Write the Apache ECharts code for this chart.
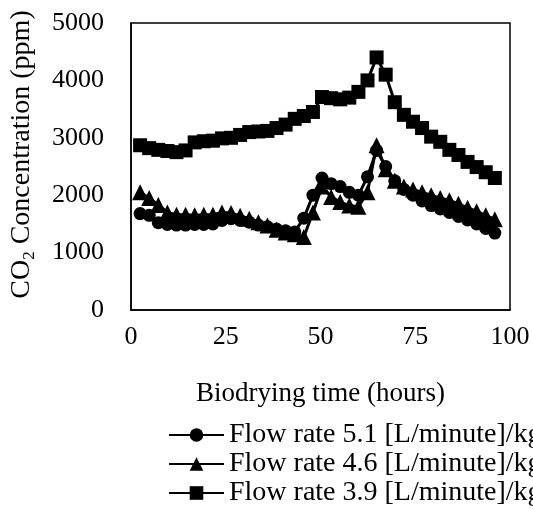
<!DOCTYPE html>
<html>
<head>
<meta charset="utf-8">
<script src="https://cdn.jsdelivr.net/npm/echarts@6/dist/echarts.min.js"></script>
<style>
  html, body { margin: 0; padding: 0; background: #fff; }
  #main { width: 533px; height: 510px; }
</style>
</head>
<body>
<div id="main"></div>
<script>
// sampling times (hours)
var hours = [2.4, 4.8, 7.2, 9.6, 12, 14.4, 16.8, 19.2, 21.6, 24,
             26.4, 28.8, 31.2, 33.6, 36, 38.4, 40.8, 43.2, 45.6, 48,
             50.4, 52.8, 55.2, 57.6, 60, 62.4, 64.8, 67.2, 69.6, 72,
             74.4, 76.8, 79.2, 81.6, 84, 86.4, 88.8, 91.2, 93.6, 96];

// CO2 concentration (ppm)
var flow51 = [1680, 1650, 1520, 1490, 1480, 1480, 1490, 1490, 1500, 1560,
              1590, 1560, 1530, 1480, 1450, 1410, 1380, 1360, 1600, 2000,
              2300, 2200, 2150, 2050, 2000, 2320, 2780, 2500, 2250, 2100,
              2000, 1900, 1820, 1760, 1700, 1630, 1570, 1500, 1420, 1340];
var flow46 = [2050, 1950, 1830, 1700, 1660, 1660, 1650, 1660, 1660, 1700,
              1690, 1640, 1590, 1530, 1470, 1400, 1350, 1320, 1270, 1700,
              2150, 1970, 1880, 1820, 1800, 2050, 2870, 2450, 2250, 2150,
              2100, 2050, 2000, 1950, 1910, 1850, 1780, 1720, 1650, 1580];
var flow39 = [2870, 2820, 2790, 2770, 2750, 2780, 2920, 2940, 2950, 2990,
              3000, 3050, 3100, 3110, 3120, 3170, 3230, 3330, 3380, 3450,
              3710, 3690, 3670, 3700, 3800, 4000, 4400, 4100, 3620, 3400,
              3280, 3170, 3020, 2930, 2790, 2700, 2580, 2490, 2400, 2300];

var names = ['Flow rate 5.1 [L/minute]/kg', 'Flow rate 4.6 [L/minute]/kg', 'Flow rate 3.9 [L/minute]/kg'];
var symbols = ['circle', 'triangle', 'rect'];
var sizes = [13, 16, 14];

function pairs(vals) {
    return hours.map(function (h, i) { return [h, vals[i]]; });
}

var font = 'Liberation Serif, Times New Roman, serif';
var chart = echarts.init(document.getElementById('main'));

var option = {
    animation: false,
    textStyle: { fontFamily: font, color: '#000' },
    grid: {
        left: 130, right: 23, top: 23, bottom: 200,
        show: true, borderColor: '#000', borderWidth: 1.5
    },
    legend: {
        orient: 'vertical',
        left: 168,
        top: 421,
        height: 120,
        padding: 0,
        itemWidth: 55,
        itemHeight: 17,
        itemGap: 1,
        data: names,
        textStyle: { fontFamily: font, fontSize: 28, lineHeight: 27, color: '#000' }
    },
    xAxis: {
        type: 'value',
        min: 0, max: 100, interval: 25,
        name: 'Biodrying time (hours)',
        nameLocation: 'middle',
        nameGap: 70,
        nameTextStyle: { fontFamily: font, fontSize: 27, color: '#000' },
        axisLine: { lineStyle: { color: '#000', width: 1.5 } },
        axisTick: { show: false },
        splitLine: { show: false },
        axisLabel: { margin: 14, fontFamily: font, fontSize: 26, color: '#000' }
    },
    yAxis: {
        type: 'value',
        min: 0, max: 5000, interval: 1000,
        name: '{n|CO}{sub|2}{n| Concentration (ppm)}',
        nameLocation: 'middle',
        nameGap: 93,
        nameTextStyle: {
            fontFamily: font, fontSize: 28, color: '#000',
            padding: [0, 0, 0, 24],
            rich: {
                n: { fontFamily: font, fontSize: 28, color: '#000' },
                sub: { fontFamily: font, fontSize: 17, color: '#000', padding: [15, 0, 0, 0] }
            }
        },
        axisLine: { show: true, lineStyle: { color: '#000', width: 1.5 } },
        axisTick: { show: false },
        splitLine: { show: false },
        axisLabel: {
            margin: 27, fontFamily: font, fontSize: 26, color: '#000',
            formatter: function (v) { return String(v); }
        }
    },
    series: names.map(function (n, k) {
        return {
            name: n,
            type: 'line',
            data: pairs([flow51, flow46, flow39][k]),
            symbol: symbols[k],
            symbolSize: sizes[k],
            showAllSymbol: true,
            lineStyle: { color: '#000', width: 3 },
            itemStyle: { color: '#000', borderColor: '#000', borderWidth: 0 }
        };
    })
};

chart.setOption(option);
</script>
</body>
</html>
